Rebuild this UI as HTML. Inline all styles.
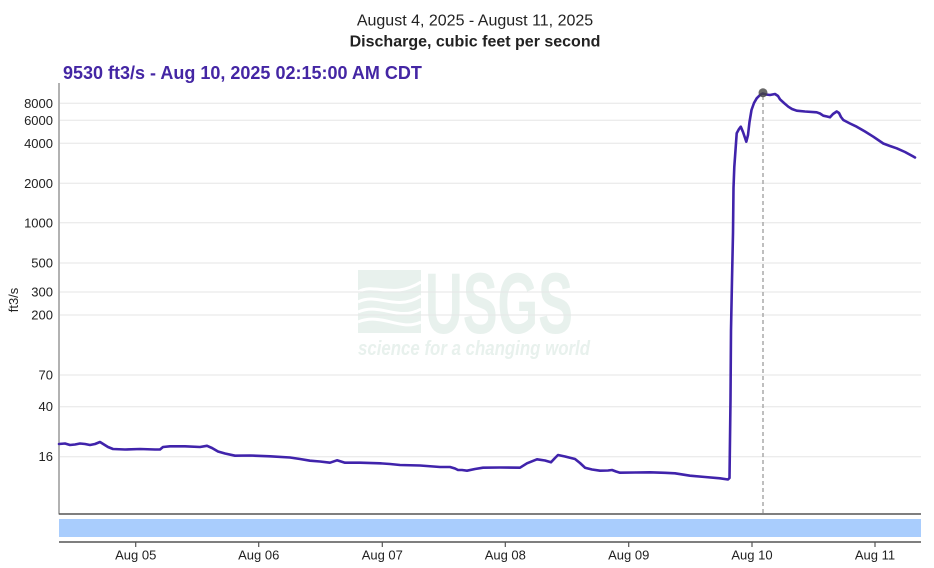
<!DOCTYPE html>
<html>
<head>
<meta charset="utf-8">
<style>
  html,body{margin:0;padding:0;background:#fff;}
  body{width:934px;height:568px;overflow:hidden;}
  svg{display:block;}
  .tick{font-family:"Liberation Sans",Arial,sans-serif;font-size:13px;fill:#222;}
</style>
</head>
<body>
<svg width="934" height="568" viewBox="0 0 934 568" xmlns="http://www.w3.org/2000/svg">
  <!-- Titles -->
  <text x="475" y="25.5" text-anchor="middle" font-family="Liberation Sans, Arial, sans-serif" font-size="16" fill="#222">August 4, 2025 - August 11, 2025</text>
  <text x="475" y="46.5" text-anchor="middle" font-family="Liberation Sans, Arial, sans-serif" font-size="16" font-weight="bold" fill="#222">Discharge, cubic feet per second</text>
  <text x="63" y="79" font-family="Liberation Sans, Arial, sans-serif" font-size="18" font-weight="bold" fill="#4426a4">9530 ft3/s - Aug 10, 2025 02:15:00 AM CDT</text>

  <!-- Watermark -->
  <g fill="#e8f1ed">
    <path d="M358,270 L421,270 L421,333 L358,333 Z"/>
    <text x="425" y="333" font-family="Liberation Sans, Arial, sans-serif" font-weight="bold" font-size="86" textLength="148" lengthAdjust="spacingAndGlyphs">USGS</text>
    <text x="358" y="355" font-family="Liberation Sans, Arial, sans-serif" font-weight="bold" font-style="italic" font-size="20" textLength="232" lengthAdjust="spacingAndGlyphs">science for a changing world</text>
  </g>
  <g fill="none" stroke="#fff" stroke-width="3">
    <path d="M358,292 C375,282 392,300 421,282"/>
    <path d="M358,302 C378,292 395,312 421,296"/>
    <path d="M358,312 C380,302 398,322 421,309"/>
    <path d="M358,322 C382,312 400,332 421,322"/>
  </g>

  <!-- Gridlines -->
  <g stroke="#e6e6e6" stroke-width="1">
    <line x1="60" y1="103.3" x2="921" y2="103.3"/>
    <line x1="60" y1="120.3" x2="921" y2="120.3"/>
    <line x1="60" y1="143.3" x2="921" y2="143.3"/>
    <line x1="60" y1="183.3" x2="921" y2="183.3"/>
    <line x1="60" y1="222.7" x2="921" y2="222.7"/>
    <line x1="60" y1="263" x2="921" y2="263"/>
    <line x1="60" y1="292" x2="921" y2="292"/>
    <line x1="60" y1="315" x2="921" y2="315"/>
    <line x1="60" y1="375" x2="921" y2="375"/>
    <line x1="60" y1="406.7" x2="921" y2="406.7"/>
    <line x1="60" y1="456.7" x2="921" y2="456.7"/>
  </g>

  <!-- Y tick labels -->
  <g class="tick" text-anchor="end">
    <text x="53" y="108">8000</text>
    <text x="53" y="125">6000</text>
    <text x="53" y="148">4000</text>
    <text x="53" y="188">2000</text>
    <text x="53" y="227.5">1000</text>
    <text x="53" y="267.5">500</text>
    <text x="53" y="296.5">300</text>
    <text x="53" y="319.5">200</text>
    <text x="53" y="379.5">70</text>
    <text x="53" y="411">40</text>
    <text x="53" y="461">16</text>
  </g>
  <text class="tick" transform="translate(18,300) rotate(-90)" text-anchor="middle">ft3/s</text>

  <!-- Axes -->
  <line x1="59" y1="83" x2="59" y2="514.5" stroke="#999" stroke-width="1.5"/>
  <line x1="59" y1="514" x2="921" y2="514" stroke="#555" stroke-width="1.5"/>

  <!-- Dashed cursor line -->
  <line x1="763" y1="96" x2="763" y2="513" stroke="#aaa" stroke-width="1.5" stroke-dasharray="4,3"/>

  <!-- Data series -->
  <polyline fill="none" stroke="#4023ab" stroke-width="2.6" stroke-linejoin="round" stroke-linecap="round" points="
59,444 65,443.5 70,445 75,444.5 80,443.5 85,444 90,445 95,444 100,442 104,444.5 108,447 113,449 125,449.5 140,449 155,449.5 160,449.5 163,447 170,446.3 185,446.3 200,447 207,445.8 212,448 218,451.5 225,453.5 235,455.7 250,455.5 270,456.3 290,457.5 300,459 310,460.7 320,461.5 330,462.7 337,460.3 345,462.7 360,462.7 380,463.3 390,464 400,465 420,465.5 440,467 450,467 455,468.5 458,470 462,470 467,470.7 475,469 483,467.7 500,467.5 520,467.7 527,463.3 537,459.3 545,460.5 551,462.3 555,458 558,455 565,456.5 575,459 580,463 585,467.7 592,469.5 600,470.7 608,470.5 612,470 616,471.5 620,472.7 635,472.5 650,472.3 665,472.8 675,473.3 690,475.7 705,477 720,478.3 728,479.5 729.5,478 730.5,400 731,330 732,280 733,233 733.5,188 734.3,167 736.7,133.3 739,129 740.8,126.7 743,132 746.3,141.7 748,135 749.5,122 751.5,110 754,103 756.7,98.3 760,95 762.7,93.5 766,94.5 770,95 775,94 778,96 780,99.3 784,103 788.3,106.7 792,109 796.7,110.7 805,111.5 816.7,112.3 820,113.5 823.3,115.7 827,116.5 830,117.3 833,114 836.7,111.5 839,113 841,117 843.3,120 850,123.5 856.7,126.7 865,131.5 873.3,136.7 883.3,143.5 890,146 896.7,148.3 905,152 913.3,156.5 915,157.5"/>

  <!-- Marker -->
  <circle cx="763" cy="92.8" r="4.5" fill="#444" fill-opacity="0.8"/>

  <!-- Brush bar -->
  <rect x="59" y="519" width="862" height="18" fill="#a9cdfd"/>
  <line x1="59" y1="542" x2="921" y2="542" stroke="#555" stroke-width="1.5"/>

  <!-- X ticks -->
  <g stroke="#555" stroke-width="1.2">
    <line x1="135.7" y1="542" x2="135.7" y2="547"/>
    <line x1="258.7" y1="542" x2="258.7" y2="547"/>
    <line x1="382.3" y1="542" x2="382.3" y2="547"/>
    <line x1="505.3" y1="542" x2="505.3" y2="547"/>
    <line x1="628.7" y1="542" x2="628.7" y2="547"/>
    <line x1="752" y1="542" x2="752" y2="547"/>
    <line x1="875" y1="542" x2="875" y2="547"/>
  </g>
  <g class="tick" text-anchor="middle">
    <text x="135.7" y="559.5">Aug 05</text>
    <text x="258.7" y="559.5">Aug 06</text>
    <text x="382.3" y="559.5">Aug 07</text>
    <text x="505.3" y="559.5">Aug 08</text>
    <text x="628.7" y="559.5">Aug 09</text>
    <text x="752" y="559.5">Aug 10</text>
    <text x="875" y="559.5">Aug 11</text>
  </g>
</svg>
</body>
</html>
